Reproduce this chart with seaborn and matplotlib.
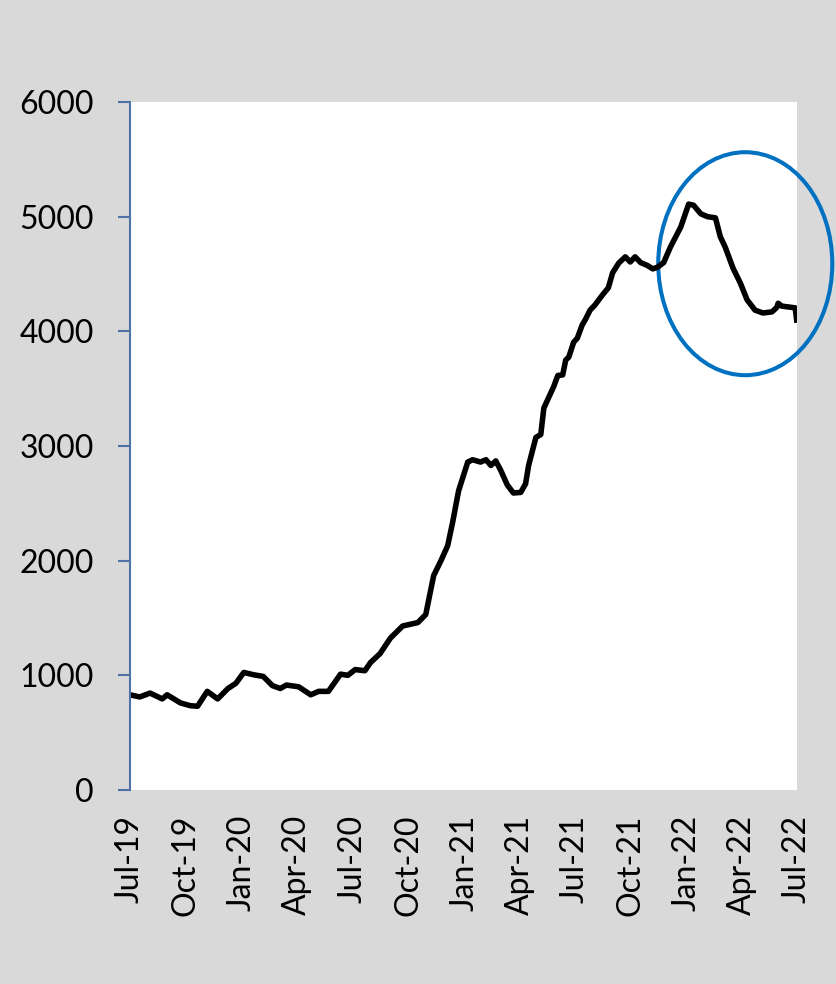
import matplotlib
matplotlib.use("Agg")
import matplotlib.dates as mdates
import matplotlib.pyplot as plt
import pandas as pd
import seaborn as sns
from matplotlib.patches import Ellipse

# values
dates = [
    "2019-07-01", "2019-07-17", "2019-08-03", "2019-08-23", "2019-08-31",
    "2019-09-22", "2019-10-08", "2019-10-20", "2019-11-05", "2019-11-22",
    "2019-12-09", "2019-12-22", "2020-01-04", "2020-01-20", "2020-02-05",
    "2020-02-20", "2020-03-04", "2020-03-14", "2020-04-03", "2020-04-23",
    "2020-05-06", "2020-05-22", "2020-06-11", "2020-06-23", "2020-07-05",
    "2020-07-21", "2020-07-30", "2020-08-15", "2020-09-01", "2020-09-21",
    "2020-10-16", "2020-10-29", "2020-11-11", "2020-11-23", "2020-12-04",
    "2020-12-12", "2020-12-22", "2021-01-06", "2021-01-14", "2021-01-27",
    "2021-02-05", "2021-02-13", "2021-02-21", "2021-03-01", "2021-03-12",
    "2021-03-22", "2021-04-03", "2021-04-11", "2021-04-16", "2021-04-28",
    "2021-05-06", "2021-05-11", "2021-05-17", "2021-05-27", "2021-06-03",
    "2021-06-11", "2021-06-16", "2021-06-21", "2021-06-29", "2021-07-05",
    "2021-07-13", "2021-07-18", "2021-07-26", "2021-08-03", "2021-08-15",
    "2021-08-25", "2021-09-01", "2021-09-11", "2021-09-22", "2021-09-30",
    "2021-10-08", "2021-10-17", "2021-10-28", "2021-11-06", "2021-11-14",
    "2021-11-24", "2021-12-05", "2021-12-22", "2022-01-04", "2022-01-12",
    "2022-01-24", "2022-02-04", "2022-02-17", "2022-02-25", "2022-03-05",
    "2022-03-18", "2022-03-30", "2022-04-10", "2022-04-23", "2022-05-06",
    "2022-05-21", "2022-05-29", "2022-05-31", "2022-06-06", "2022-06-28",
    "2022-07-01",
]
values = [
    830, 811, 845, 794, 830,
    759, 735, 730, 860, 794,
    885, 930, 1025, 1005, 990,
    910, 885, 915, 900, 830,
    860, 860, 1010, 1000, 1050,
    1040, 1110, 1190, 1325, 1430,
    1460, 1530, 1870, 2000, 2130,
    2330, 2610, 2860, 2880, 2860,
    2880, 2830, 2870, 2790, 2660,
    2590, 2595, 2670, 2830, 3075,
    3100, 3330, 3400, 3515, 3615,
    3620, 3750, 3775, 3905, 3940,
    4055, 4100, 4185, 4230, 4315,
    4380, 4510, 4595, 4650, 4605,
    4650, 4600, 4575, 4545, 4560,
    4600, 4735, 4910, 5110, 5100,
    5025, 5000, 4990, 4825, 4735,
    4550, 4420, 4275, 4185, 4160,
    4170, 4210, 4245, 4220, 4205,
    4075,
]
y_ticks = [0, 1000, 2000, 3000, 4000, 5000, 6000]

df = pd.DataFrame({"date": pd.to_datetime(dates), "value": values})

sns.set_theme(style="white")
plt.rcParams["font.family"] = ["Lato", "DejaVu Sans"]

bg = "#d9d9d9"
axis_blue = "#4f72a6"

fig = plt.figure(figsize=(8.37, 9.84), dpi=100, facecolor=bg)
ax = fig.add_axes([0.1553, 0.1972, 0.7969, 0.6991])
ax.set_facecolor("white")

sns.lineplot(data=df, x="date", y="value", ax=ax, color="black", linewidth=4,
             solid_joinstyle="round", solid_capstyle="butt")

ax.set_xlim(pd.Timestamp("2019-07-01"), pd.Timestamp("2022-07-01"))
ax.set_ylim(0, 6000)
ax.set_yticks(y_ticks)
ax.xaxis.set_major_locator(mdates.MonthLocator(bymonth=[1, 4, 7, 10]))
ax.xaxis.set_major_formatter(mdates.DateFormatter("%b-%y"))
ax.set_xlabel("")
ax.set_ylabel("")

for side in ["top", "right", "bottom"]:
    ax.spines[side].set_visible(False)
ax.spines["left"].set_color(axis_blue)
ax.spines["left"].set_linewidth(1.5)

ax.tick_params(axis="y", which="major", left=True, length=9, width=1.5,
               color=axis_blue, pad=17, labelsize=23, labelcolor="black")
ax.tick_params(axis="x", which="major", bottom=False, pad=12,
               labelsize=23, labelcolor="black", labelrotation=90)

# highlight around the 2022 peak
center = (mdates.date2num(pd.Timestamp("2022-04-07")), 4590)
ring = Ellipse(center, width=mdates.date2num(pd.Timestamp("2022-07-01")) - mdates.date2num(pd.Timestamp("2021-09-18")),
               height=1945, fill=False, edgecolor="#0070c0", linewidth=2.9, clip_on=False)
ax.add_patch(ring)

fig.savefig("out.png", dpi=100, facecolor=bg)
